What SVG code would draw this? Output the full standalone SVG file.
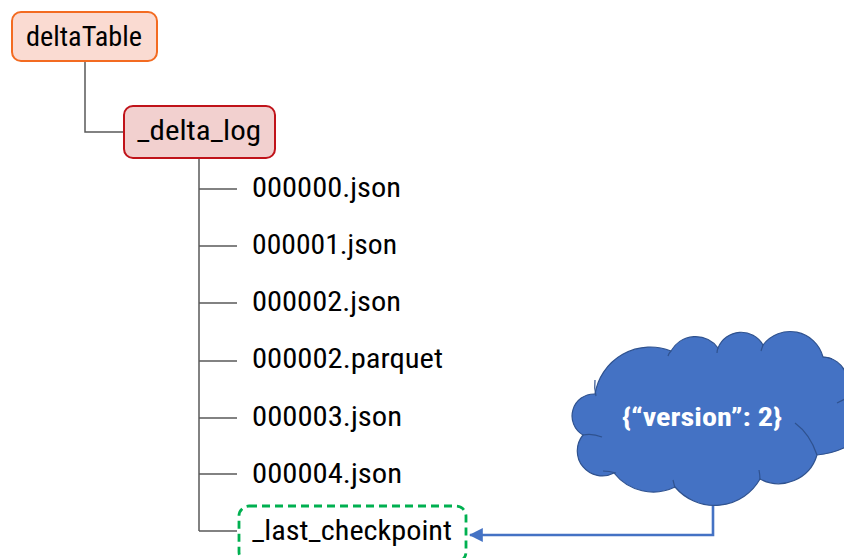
<svg xmlns="http://www.w3.org/2000/svg" width="844" height="558" viewBox="0 0 844 558">
  <style>
    .label { font-family: "Liberation Sans Narrow", "Roboto Condensed", "Liberation Sans", Arial, sans-serif; font-size: 27px; fill: #000000; }
    .tree { fill: none; stroke: #595959; stroke-width: 1.5; }
    .crease { fill: none; stroke: #2F528F; stroke-width: 1.2; }
    .cloudtext { font-family: "Liberation Sans Narrow", "Roboto Condensed", "Liberation Sans", Arial, sans-serif; font-size: 26px; font-weight: bold; fill: #FFFFFF; }
  </style>
  <defs>
    <marker id="arrowBlue" markerUnits="userSpaceOnUse" markerWidth="14" markerHeight="14" refX="11" refY="6" orient="auto" viewBox="0 0 12 12">
      <path d="M0,0 L12,6 L0,12 Z" fill="#4472C4"/>
    </marker>
  </defs>

  <rect width="844" height="558" fill="#FFFFFF"/>

  <!-- tree connectors -->
  <g id="connectors">
    <path class="tree" d="M85,61 V132 H124"/>
    <path class="tree" d="M199,158 V531"/>
    <path class="tree" d="M199,189 H237 M199,246 H237 M199,303 H237 M199,361 H237 M199,418 H237 M199,474 H237 M199,531 H237"/>
    <path d="M713,504 V535 H470" fill="none" stroke="#4472C4" stroke-width="2.6" marker-end="url(#arrowBlue)"/>
  </g>

  <g id="deltaTable">
    <rect x="12" y="12" width="145" height="49" rx="9" fill="#FADBD2" stroke="#F36B21" stroke-width="2"/>
    <text class="label" x="26" y="46" textLength="116" lengthAdjust="spacingAndGlyphs">deltaTable</text>
  </g>

  <g id="delta_log">
    <rect x="124" y="106" width="151" height="52" rx="9" fill="#F2D0CF" stroke="#C0131A" stroke-width="2"/>
    <text class="label" x="137" y="140" textLength="124" lengthAdjust="spacingAndGlyphs">_delta_log</text>
  </g>

  <g id="file0"><text class="label" x="252" y="197" textLength="149" lengthAdjust="spacingAndGlyphs">000000.json</text></g>
  <g id="file1"><text class="label" x="252" y="254" textLength="145" lengthAdjust="spacingAndGlyphs">000001.json</text></g>
  <g id="file2"><text class="label" x="252" y="311" textLength="149" lengthAdjust="spacingAndGlyphs">000002.json</text></g>
  <g id="file2parquet"><text class="label" x="252" y="368" textLength="191" lengthAdjust="spacingAndGlyphs">000002.parquet</text></g>
  <g id="file3"><text class="label" x="252" y="426" textLength="150" lengthAdjust="spacingAndGlyphs">000003.json</text></g>
  <g id="file4"><text class="label" x="252" y="483" textLength="150" lengthAdjust="spacingAndGlyphs">000004.json</text></g>

  <g id="last_checkpoint">
    <rect x="239" y="506" width="227" height="56" rx="10" fill="none" stroke="#00B050" stroke-width="2.8" stroke-dasharray="8 5"/>
    <text class="label" x="252" y="540" textLength="200" lengthAdjust="spacingAndGlyphs">_last_checkpoint</text>
  </g>

  <g id="versionCloud">
    <path d="M595,394 A22,22 0 0 0 583,435 A25,25 0 0 0 614,473 A50,50 0 0 0 675,487 A52,52 0 0 0 760,479 A40,40 0 0 0 817,455 A80,80 0 0 0 846,447 L846,374 A25,25 0 0 0 823,357 A34,34 0 0 0 763,345 A25,25 0 0 0 718,348 A28,28 0 0 0 671,351 A56,56 0 0 0 595,394 Z" fill="#4472C4" stroke="#2F528F" stroke-width="1.2"/>
    <path class="crease" d="M595,380 Q594,388 596,396"/>
    <path class="crease" d="M583,435 Q592,433 602,437"/>
    <path class="crease" d="M603,471 Q609,471 616,473"/>
    <path class="crease" d="M673,480 Q674,484 675,488"/>
    <path class="crease" d="M759,470 Q760,475 760,480"/>
    <path class="crease" d="M795,423 Q810,434 817,455"/>
    <path class="crease" d="M837,403 Q841,401 845,399"/>
    <path class="crease" d="M823,357 Q828,357 832,359"/>
    <path class="crease" d="M763,345 Q762,348 761,351"/>
    <path class="crease" d="M718,348 Q717,350 717,353"/>
    <path class="crease" d="M671,351 Q669,353 668,356"/>
    <text class="cloudtext" x="622" y="426" textLength="160" lengthAdjust="spacingAndGlyphs">{“version”: 2}</text>
  </g>
</svg>
